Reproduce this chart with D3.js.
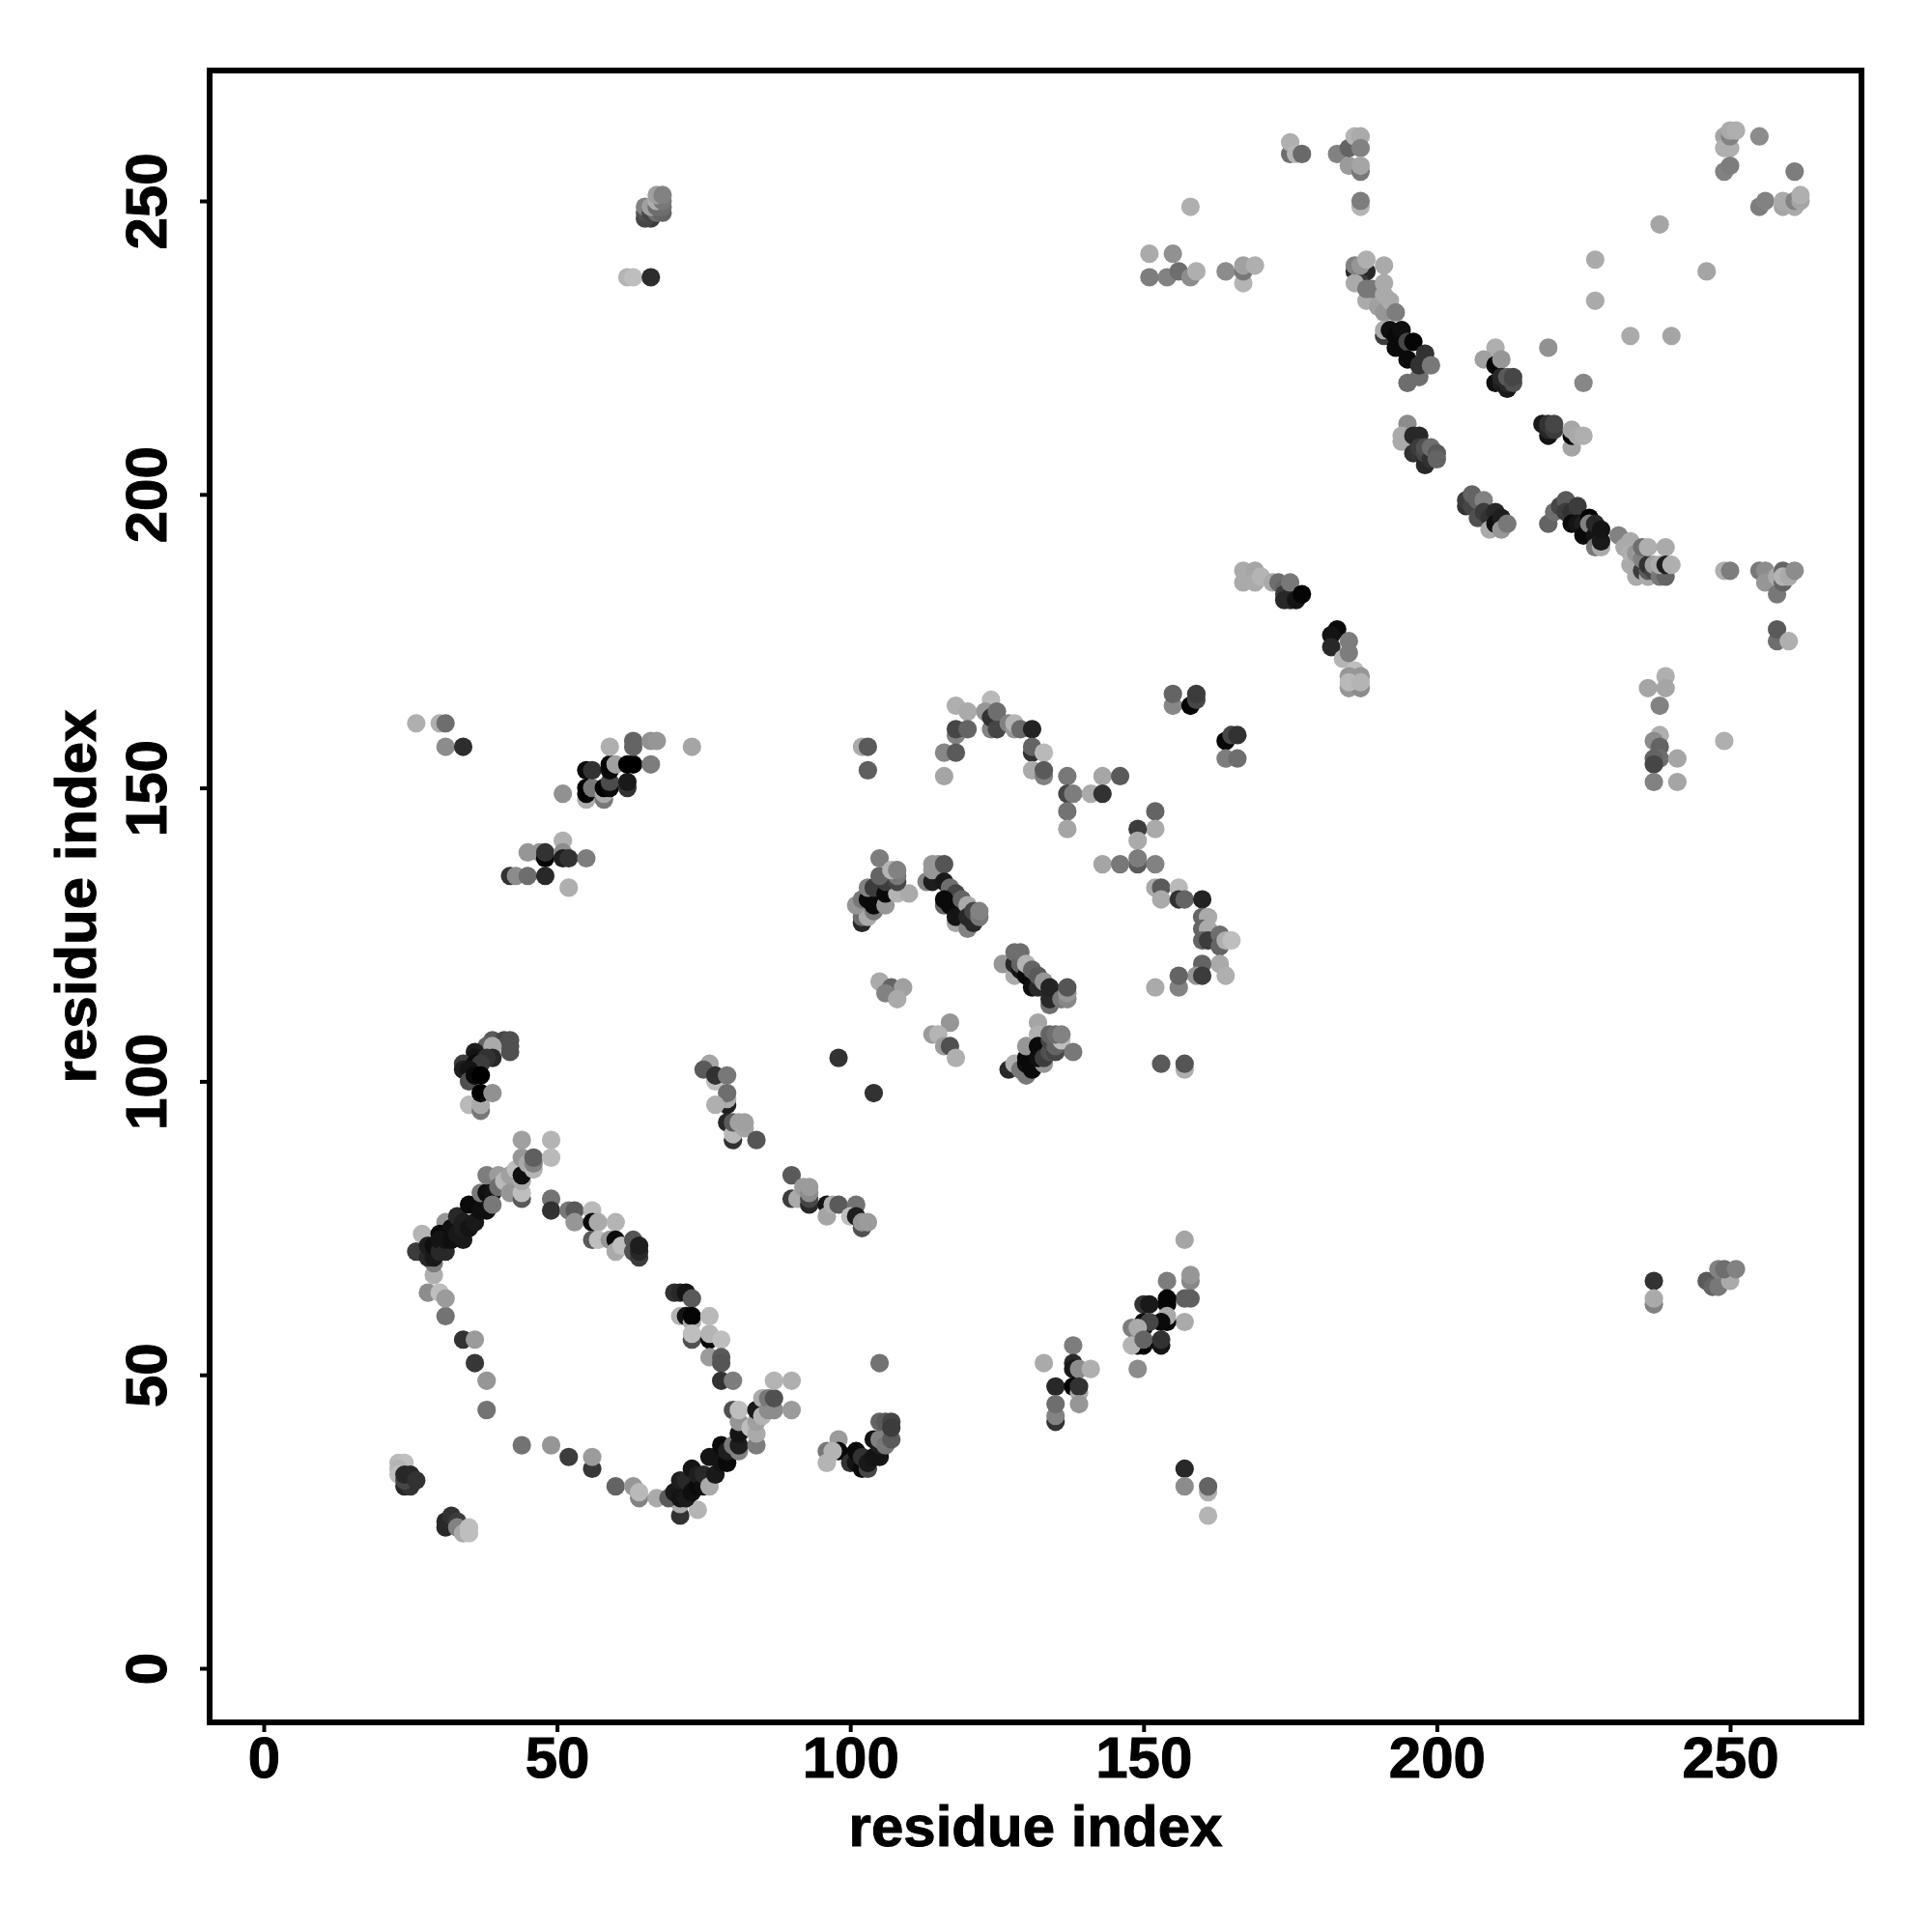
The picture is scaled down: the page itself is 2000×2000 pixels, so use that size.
<!DOCTYPE html>
<html><head><meta charset="utf-8">
<style>html,body{margin:0;background:#fff}svg{display:block}</style>
<script src="https://cdn.jsdelivr.net/npm/d3@7"></script></head><body>
<script>
// each row: [residue i, residue j, grey level]
const tickValues=[0,50,100,150,200,250];
const xLabel="residue index", yLabel="residue index";
const ringA=[[38,44,115],[38,49,150],[36,52,55],[34,56,50],[36,56,155],[31,60,115],[28,64,140],[30,64,190],[31,63,155],[29,67,175],[44,38,115],[49,38,150],[52,36,60],[56,34,55],[56,36,155],[60,31,100],[63,31,150],[64,29,130],[64,30,185],[67,29,170],[23,35,185],[24,35,190],[23,34,180],[23,33,190],[24,31,40],[25,31,50],[24,32,70],[24,33,40],[25,33,40],[26,32,50],[31,24,40],[31,25,40],[32,26,50],[33,25,60],[33,24,130],[34,23,170],[35,24,190],[35,23,190]];
const helixA=[[29,69,125],[26,71,60],[27,74,180],[31,76,150],[28,70,40],[28,72,30],[29,70,25],[29,72,15],[30,71,40],[30,74,10],[30,73,20],[31,71,40],[31,73,20],[32,73,15],[32,75,15],[33,74,25],[33,77,40],[34,73,25],[34,76,30],[34,75,30],[35,75,20],[35,79,10],[36,76,25],[36,79,10],[37,78,15],[37,81,120],[38,78,15],[38,81,15],[38,84,125],[39,81,20],[39,79,120],[40,84,155],[40,82,110],[41,83,185],[42,84,160],[42,81,150],[43,85,190],[44,80,90],[44,81,190],[44,83,170],[44,84,15],[44,87,150],[44,90,160],[45,86,170],[46,85,180],[46,86,130],[46,87,95],[49,90,180],[49,87,185]];
const strandA=[[49,80,115],[49,78,50],[52,78,120],[53,78,90],[53,76,150],[56,78,185],[56,76,10],[57,76,170],[60,76,180],[56,73,90],[57,73,190],[59,73,150],[60,73,10],[60,71,170],[61,72,190],[63,73,85],[63,71,80],[64,70,60],[64,71,40],[64,72,30]];
const strandB=[[70,64,50],[71,64,40],[72,64,20],[73,63,90],[71,60,180],[72,60,20],[73,59,170],[73,60,5],[76,60,185],[73,56,80],[73,57,190],[76,56,10],[76,57,180],[78,56,190],[76,53,155],[78,53,90],[78,52,85],[78,49,50],[80,49,125]];
const helixB=[[71,26,50],[71,28,170],[74,27,180],[69,29,90],[70,30,25],[71,29,20],[71,32,30],[72,29,25],[72,32,40],[73,30,15],[73,34,20],[74,31,10],[74,33,30],[75,31,15],[75,33,40],[76,31,170],[76,36,20],[77,36,20],[77,33,25],[78,35,20],[78,38,10],[79,35,10],[79,37,30],[80,38,120],[80,44,80],[81,37,130],[81,38,30],[81,40,20],[81,42,150],[81,44,190],[83,41,190],[84,38,125],[84,40,170],[84,42,160],[84,44,25],[85,43,180],[85,46,170],[86,44,140],[86,46,120],[87,44,140],[87,46,80],[87,49,180],[90,49,175],[90,44,155]];
const helixC=[[98,39,155],[98,37,10],[96,37,120],[96,35,180],[97,37,180],[100,35,50],[101,35,20],[101,37,10],[102,34,10],[102,36,50],[103,34,70],[103,35,25],[104,36,20],[105,36,20],[104,39,20],[105,38,30],[105,39,130],[106,38,120],[107,39,90],[105,42,100],[106,42,90],[107,42,70],[107,41,60],[105,52,115]];
const smallA=[[133,52,170],[138,55,125],[138,52,40],[138,51,25],[139,51,140],[141,51,175],[135,48,40],[138,48,5],[139,47,170],[139,48,50],[139,45,150],[135,42,50],[135,43,130],[135,45,110],[157,34,40],[157,31,140],[161,30,175],[161,31,100],[161,26,180]];
const smallB=[[157,73,165],[158,66,135],[158,67,150],[154,66,125],[157,63,95],[158,63,95],[154,62,5],[154,63,5],[150,62,50],[151,62,25],[157,59,170],[154,59,10],[154,60,170],[153,59,10],[150,58,10],[150,59,10],[151,59,70],[148,58,125],[149,58,170],[149,55,5],[150,55,5],[148,55,180],[150,56,100],[153,55,20],[153,56,50],[149,51,140]];
const farRight=[[237,66,50],[237,62,130],[237,63,170],[246,66,90],[247,65,100],[248,65,120],[250,66,170],[248,68,130],[249,68,110],[251,68,130]];
const mid100=[[90,84,90],[90,80,60],[91,80,170],[92,82,155],[93,79,40],[93,80,70],[93,81,140],[93,82,155],[96,79,20],[96,77,165],[97,79,175],[98,79,90],[101,79,115],[100,77,190],[101,77,30],[102,75,80],[102,76,150],[103,76,155],[76,103,165],[75,102,90],[77,100,190],[77,101,50],[79,101,120],[79,96,30],[79,97,170],[79,98,110],[77,96,175],[79,93,40],[80,90,50],[80,91,185],[80,93,90],[81,93,160],[82,92,165],[82,93,160],[84,90,85],[98,104,50],[104,98,50]];
const cluster100=[[39,107,90],[41,107,70],[42,107,80],[42,106,80],[42,105,80],[38,106,100],[39,106,170],[39,104,40],[36,105,30],[36,104,20],[38,104,50],[34,103,60],[34,102,30],[36,103,10],[37,103,60],[35,102,20],[35,100,80],[36,101,10],[37,101,0],[35,96,185],[37,95,120],[37,96,170],[37,98,0],[39,98,145]];
const upperLeft=[[26,161,175],[30,161,175],[31,161,110],[31,157,140],[34,157,45],[51,149,145],[55,148,175],[55,149,5],[55,150,0],[56,150,120],[55,153,10],[56,153,50],[58,148,120],[58,149,170],[58,150,0],[59,150,10],[59,151,75],[59,153,10],[59,154,5],[60,154,160],[59,157,175],[62,150,50],[62,151,25],[62,154,0],[63,154,0],[63,157,100],[63,158,100],[66,154,125],[66,158,145],[67,158,150],[73,157,165],[51,141,175],[45,139,150],[47,139,150],[48,138,5],[48,139,50],[51,139,140],[51,138,30],[52,138,50],[55,138,125],[42,135,50],[43,135,140],[45,135,110],[48,135,40],[52,133,175],[62,237,180],[63,237,190],[66,237,45],[66,247,60],[65,247,70],[65,248,80],[65,249,130],[66,248,70],[67,248,110],[68,248,100],[66,249,160],[67,249,110],[68,249,110],[67,250,175],[68,250,120],[67,251,160],[68,251,130]];
const arcTop=[[118,164,175],[120,163,170],[118,159,130],[118,160,70],[120,160,100],[116,156,135],[118,156,90],[116,152,165],[124,165,185],[123,163,150],[124,160,130],[124,162,50],[125,161,50],[125,160,70],[125,163,110],[127,161,130],[128,160,150],[128,161,180],[129,160,105],[131,160,35],[131,156,50],[131,157,100],[133,156,185],[131,153,170],[133,152,130],[133,153,90],[137,152,120],[137,149,70],[138,149,125],[137,146,115],[137,143,165],[143,152,165],[146,152,90],[141,149,170],[143,149,50],[152,146,100],[152,143,170],[149,143,60],[149,141,170],[149,137,90],[149,138,125],[143,137,165],[146,137,120],[152,137,130],[152,133,170],[153,133,90],[153,131,170],[156,133,185],[156,131,50],[157,131,100],[160,131,35],[102,157,170],[103,157,90],[103,153,95]];
const arcRight=[[160,128,100],[161,128,170],[160,126,100],[161,126,170],[160,124,100],[161,124,60],[163,125,110],[163,123,100],[164,124,175],[165,124,190],[163,120,170],[160,120,100],[159,118,150],[160,118,60],[164,118,175],[156,116,130],[156,118,100],[152,116,170],[153,103,90],[157,102,175],[157,103,85],[155,164,135],[155,166,100],[158,164,5],[159,165,70],[159,166,60],[164,158,5],[165,159,70],[166,159,50],[164,155,125],[166,155,110]];
const helixD=[[102,127,40],[102,128,110],[103,128,170],[101,130,150],[104,129,120],[104,130,10],[106,130,150],[102,131,120],[103,131,10],[103,133,130],[104,133,60],[105,133,60],[106,132,10],[108,132,180],[110,132,170],[106,134,60],[105,135,100],[105,138,125],[108,134,70],[108,135,120],[107,136,180],[108,136,130]];
const helixE=[[113,134,130],[114,134,30],[114,137,150],[114,136,150],[115,137,150],[116,137,85],[116,134,25],[117,133,110],[118,132,70],[116,130,100],[116,131,10],[117,130,10],[119,131,100],[118,127,165],[118,128,20],[120,126,130],[120,130,170],[120,128,40],[121,127,40],[121,129,70],[122,128,120],[122,129,130]];
const helixF=[[126,120,150],[128,118,170],[128,120,40],[128,122,110],[129,119,20],[129,120,100],[129,122,110],[130,118,10],[130,120,180],[131,116,15],[131,119,100],[132,116,40],[132,118,90],[133,117,150],[134,113,110],[134,114,40],[134,116,35],[136,114,120],[137,114,135],[137,115,150],[137,116,85]];
const helixG=[[130,101,120],[127,102,40],[128,103,175],[129,102,120],[130,103,15],[131,102,10],[130,104,10],[130,106,150],[132,110,165],[132,108,175],[133,103,150],[132,104,15],[132,106,10],[133,104,60],[134,105,80],[135,105,70],[134,107,70],[135,106,100],[134,108,100],[136,107,190],[135,108,110],[136,108,130],[138,105,120],[117,110,150],[114,108,155],[115,108,180],[116,106,155],[117,106,80],[118,104,175],[105,117,170],[107,116,100],[106,115,130],[109,116,160],[108,114,170]];
const upperA=[[175,258,110],[175,260,175],[176,258,180],[177,258,105],[183,258,130],[185,256,155],[185,259,100],[186,261,180],[187,261,170],[187,259,130],[187,255,120],[187,256,165],[187,249,180],[187,250,125],[151,241,170],[151,237,125],[155,241,145],[154,237,130],[156,238,110],[158,237,140],[159,238,175],[158,249,175],[164,238,140],[167,236,180],[167,238,120],[167,239,160],[169,239,175]];
const helixH=[[186,238,40],[188,238,40],[187,236,60],[186,236,170],[186,239,130],[187,239,150],[188,240,175],[191,239,170],[188,233,170],[188,235,120],[189,235,120],[191,236,170],[190,232,160],[191,231,150],[191,234,170],[192,233,170],[193,231,125],[191,227,60],[191,228,170],[192,228,15],[193,227,10],[193,225,10],[194,228,15],[195,226,70],[196,226,5],[195,223,10],[195,219,110],[197,220,110],[197,222,50],[198,224,50],[199,222,120]];
const helixI=[[210,225,175],[208,223,160],[210,222,5],[211,223,150],[210,219,15],[211,219,30],[211,220,40],[212,218,25],[212,219,40],[212,220,90],[213,219,80],[213,220,70],[219,225,145],[225,219,135],[218,212,25],[219,210,20],[219,211,40],[219,212,50],[220,211,60],[220,212,70],[223,208,165],[223,210,5],[223,211,165],[224,210,170],[225,210,175]];
const helixJ=[[195,212,140],[194,209,170],[194,210,170],[196,210,40],[197,210,40],[196,207,50],[197,208,60],[198,205,40],[198,207,70],[198,208,80],[199,206,50],[199,208,110],[200,207,90],[200,206,100],[205,198,50],[205,199,60],[206,198,70],[206,200,100],[207,199,100],[208,199,130],[207,196,80],[208,197,60],[209,196,50],[210,197,40],[209,194,170],[210,195,15],[211,196,30],[211,194,150],[212,195,120]];
const helixK=[[219,195,100],[220,197,110],[221,198,70],[222,199,90],[222,197,60],[223,197,50],[224,198,60],[223,195,10],[224,195,20],[225,195,30],[225,193,10],[226,196,5],[226,195,130],[227,193,20],[227,195,40],[227,191,120],[228,191,170],[228,192,25],[228,194,20],[231,193,130],[232,191,170],[233,192,170],[233,188,170],[234,188,170],[234,186,170],[233,190,175],[234,189,170],[234,190,150],[235,190,165],[235,187,60],[235,189,130],[235,191,110],[236,186,170],[236,187,90],[236,188,50],[236,191,175],[237,187,70],[237,188,160],[238,186,120],[239,191,170],[239,186,100],[238,188,170],[239,188,30],[240,188,175]];
const cornerRight=[[249,187,175],[250,187,125],[255,187,120],[256,187,140],[256,185,150],[258,183,120],[258,186,170],[259,185,100],[259,187,100],[259,186,180],[260,186,170],[261,187,140],[258,175,110],[258,177,90],[260,175,175],[249,261,165],[249,259,175],[250,259,175],[250,261,130],[250,262,170],[251,262,175],[249,255,130],[250,256,125],[255,261,140],[261,255,125],[255,249,125],[256,250,130],[259,249,165],[259,250,170],[261,249,170],[261,250,130],[262,250,165],[262,251,175],[238,246,165],[227,240,170],[227,233,170],[246,238,165],[233,227,170],[240,227,165]];
const blockA=[[167,185,170],[167,187,170],[169,187,165],[169,185,170],[170,186,180],[172,185,170],[173,185,110],[174,184,100],[174,183,60],[174,182,40],[175,182,40],[175,185,120],[176,182,20],[177,183,5],[183,177,10],[182,176,20],[182,174,40],[184,172,180],[185,175,125],[185,173,125],[186,170,190],[185,167,150],[187,167,140],[185,169,150],[187,169,150],[185,168,185],[187,168,180]];
const columnA=[[236,167,165],[239,169,175],[239,167,165],[238,164,130],[238,159,175],[237,158,140],[238,157,100],[238,155,110],[237,155,100],[237,154,70],[237,151,130],[241,155,165],[241,151,165],[249,158,175]];
const rows=[].concat(ringA,helixA,strandA,strandB,helixB,helixC,smallA,smallB,farRight,mid100,cluster100,upperLeft,arcTop,arcRight,helixD,helixE,helixF,helixG,upperA,helixH,helixI,helixJ,helixK,cornerRight,blockA,columnA);

const W=2000,H=2000,frameL=217,frameR=1927,frameT=73,frameB=1783;
const x=d3.scaleLinear().domain([0,250]).range([273,1791]);
const y=d3.scaleLinear().domain([0,250]).range([1727,208]);
const grey=d3.scaleLinear().domain([0,255]).range(["#000","#fff"]);
const font='"Liberation Sans",Arial,sans-serif';
const svg=d3.select("body").append("svg").attr("width",W).attr("height",H).style("background","#fff");
svg.append("g").selectAll("circle").data(rows).join("circle")
  .attr("cx",d=>x(d[0])).attr("cy",d=>y(d[1])).attr("r",9.6).attr("fill",d=>grey(d[2]));
svg.append("rect").attr("x",frameL).attr("y",frameT).attr("width",frameR-frameL).attr("height",frameB-frameT)
  .attr("fill","none").attr("stroke","#000").attr("stroke-width",6);
const ax=svg.append("g").attr("transform",`translate(0,${frameB})`)
  .call(d3.axisBottom(x).tickValues(tickValues).tickSize(10).tickPadding(3).tickFormat(d3.format("d")));
const ay=svg.append("g").attr("transform",`translate(${frameL},0)`)
  .call(d3.axisLeft(y).tickValues(tickValues).tickSize(10).tickFormat(d3.format("d")));
[ax,ay].forEach(g=>{g.select(".domain").remove();
  g.selectAll(".tick line").attr("stroke","#000").attr("stroke-width",4);
  g.selectAll("text").attr("fill","#000").attr("stroke","#000").attr("stroke-width",1).attr("font-family",font).attr("font-weight","bold").attr("font-size",60);});
ax.selectAll("text").attr("y",null).attr("dy",null).attr("text-anchor","middle").attr("transform","translate(0,57)");
ay.selectAll("text").attr("x",null).attr("dy",null).attr("text-anchor","middle").attr("transform","translate(-45,0) rotate(-90)");
svg.append("text").text(xLabel).attr("x",1072).attr("y",1911).attr("text-anchor","middle")
  .attr("stroke","#000").attr("stroke-width",1).attr("font-family",font).attr("font-weight","bold").attr("font-size",60);
svg.append("text").text(yLabel).attr("transform","translate(99,928) rotate(-90)").attr("text-anchor","middle")
  .attr("stroke","#000").attr("stroke-width",1).attr("font-family",font).attr("font-weight","bold").attr("font-size",60);
</script></body></html>
